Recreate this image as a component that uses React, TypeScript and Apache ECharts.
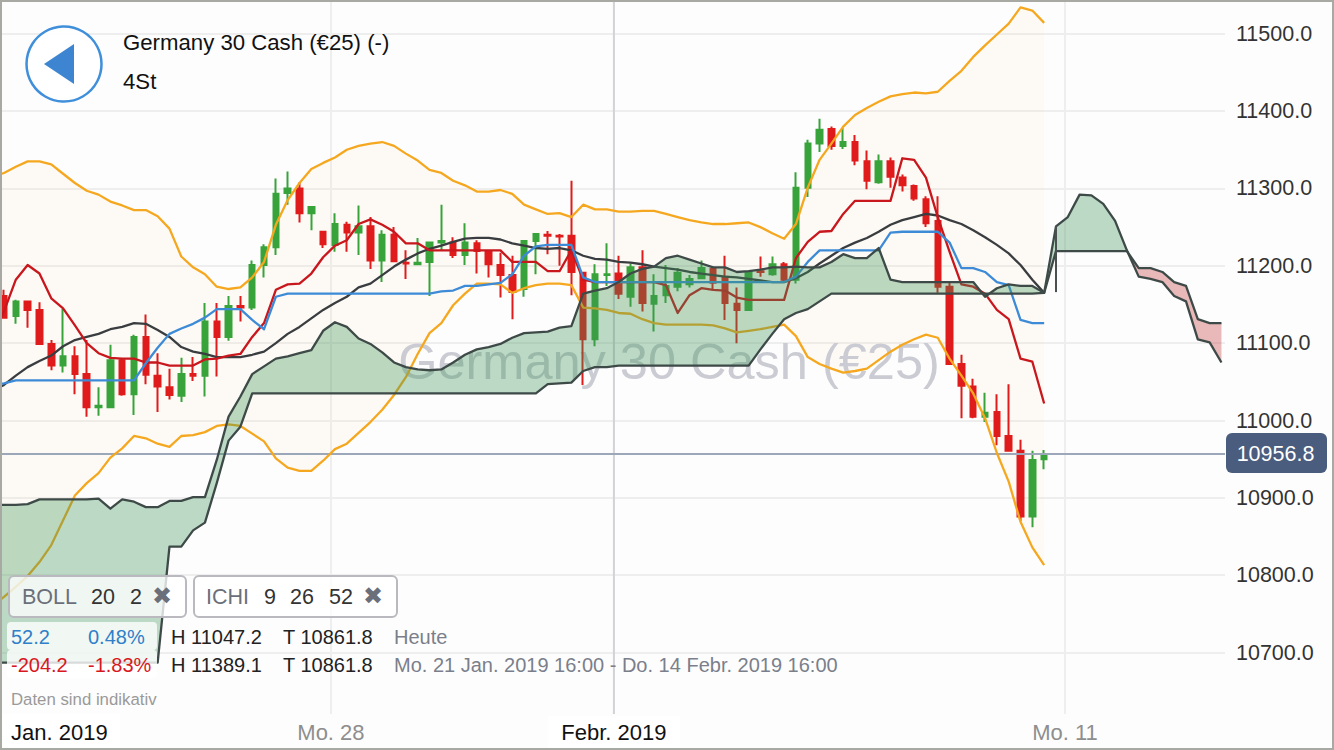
import React, { useEffect, useRef } from "react";
import * as echarts from "echarts";

const opens = [11161,11135,11154,11143,11099,11071,11083,11060,11017,11017,11078,11034,11108,11058,11043,11032,11060,11058,11128,11108,11148,11146,11201,11224,11294,11300,11268,11244,11227,11253,11243,11251,11207,11240,11204,11202,11205,11230,11230,11214,11229,11218,11201,11188,11170,11232,11240,11239,11239,11191,11105,11188,11190,11160,11198,11151,11162,11173,11176,11184,11196,11186,11151,11143,11193,11189,11202,11182,11301,11358,11377,11355,11360,11335,11308,11335,11314,11303,11286,11258,11173,11073,11044,11005,11011,10980,10961,10876,10950];
const closes = [11133,11154,11143,11099,11071,11083,11060,11017,11019,11078,11034,11108,11059,11044,11033,11060,11058,11128,11108,11148,11146,11201,11224,11293,11300,11268,11276,11228,11254,11243,11251,11207,11240,11206,11203,11204,11230,11232,11214,11230,11219,11202,11188,11166,11232,11241,11239,11238,11192,11105,11189,11189,11164,11198,11152,11161,11174,11191,11183,11197,11178,11152,11143,11192,11192,11202,11182,11301,11358,11376,11355,11360,11336,11310,11335,11315,11304,11287,11255,11173,11073,11045,11005,11010,10980,10961,10876,10949,10956.8];
const lows = [11132,11125,11120,11098,11065,11062,11034,11005,11006,11017,11032,11007,11047,11011,11027,11024,11051,11031,11057,11103,11128,11143,11185,11214,11279,11256,11246,11223,11218,11218,11214,11196,11179,11206,11183,11201,11161,11220,11210,11201,11190,11185,11159,11131,11160,11189,11215,11200,11162,11046,11096,11174,11157,11147,11141,11115,11152,11167,11172,11183,11169,11130,11100,11143,11186,11187,11179,11177,11289,11347,11350,11351,11330,11299,11306,11301,11296,11284,11250,11165,11072,11003,11003,10998,10968,10960,10870,10862,10937];
const highs = [11169,11156,11155,11153,11104,11144,11096,11104,11043,11098,11080,11111,11137,11087,11067,11081,11082,11152,11152,11161,11161,11207,11228,11313,11322,11308,11276,11244,11268,11257,11278,11263,11246,11250,11220,11236,11231,11279,11237,11255,11233,11219,11217,11213,11233,11242,11245,11241,11310,11191,11202,11229,11213,11203,11220,11189,11201,11197,11188,11207,11199,11213,11172,11192,11212,11212,11205,11321,11363,11390,11380,11378,11369,11349,11344,11340,11318,11305,11290,11290,11179,11085,11054,11036,11034,11047,10975,10961,10962];

// The overlay lines start one bar before the first candle (clipped by the chart's left edge).
const bollUpper = [11315,11320,11328,11335,11335,11331,11319,11307,11297,11292,11283,11278,11272,11272,11264,11248,11212,11198,11189,11173,11170,11172,11185,11205,11253,11285,11307,11325,11333,11340,11350,11355,11358,11360,11355,11345,11336,11324,11320,11310,11304,11296,11296,11298,11293,11279,11273,11267,11268,11263,11279,11273,11273,11270,11270,11271,11271,11267,11263,11259,11256,11254,11254,11255,11256,11250,11242,11235,11254,11301,11337,11358,11380,11395,11404,11412,11419,11422,11424,11423,11425,11439,11452,11470,11485,11499,11513,11534,11530,11514];
const bollLower = [10760,10772,10785,10799,10817,10839,10871,10903,10919,10932,10952,10964,10980,10977,10970,10966,10980,10981,10985,10993,10995,10993,10983,10973,10951,10939,10935,10935,10948,10963,10970,10984,10998,11014,11033,11056,11086,11113,11126,11149,11164,11177,11177,11176,11165,11171,11175,11177,11177,11175,11146,11145,11143,11139,11138,11131,11126,11124,11124,11124,11124,11123,11119,11114,11116,11118,11121,11124,11109,11082,11073,11067,11062,11064,11067,11078,11089,11098,11105,11111,11107,11080,11058,11035,11003,10958,10921,10869,10836,10813];
const bollMiddle = [11038,11046,11058,11069,11077,11084,11096,11104,11108,11112,11118,11121,11126,11125,11117,11108,11095,11089,11086,11082,11082,11082,11085,11089,11100,11112,11121,11132,11143,11152,11160,11172,11177,11188,11199,11208,11216,11222,11226,11231,11235,11236,11236,11234,11229,11226,11223,11222,11223,11220,11213,11209,11208,11205,11204,11202,11199,11197,11195,11192,11190,11188,11186,11185,11183,11181,11179,11179,11184,11192,11203,11213,11223,11230,11236,11244,11253,11259,11263,11267,11265,11259,11254,11246,11237,11227,11216,11201,11182,11165];
const tenkan = [11111,11141,11182,11201,11190,11158,11145,11123,11100,11087,11081,11080,11080,11075,11075,11071,11071,11071,11079,11080,11084,11086,11108,11126,11169,11176,11177,11190,11211,11226,11233,11254,11260,11253,11244,11229,11229,11220,11220,11220,11220,11220,11220,11220,11205,11205,11205,11193,11193,11220,11182,11179,11179,11179,11179,11179,11179,11175,11139,11162,11171,11169,11168,11159,11156,11156,11156,11156,11210,11231,11244,11245,11267,11284,11284,11284,11284,11339,11337,11314,11263,11218,11176,11173,11164,11143,11131,11080,11076,11022];
const kijun = [11046,11048,11052,11052,11052,11052,11052,11052,11052,11052,11052,11052,11052,11074,11094,11112,11119,11125,11133,11144,11144,11144,11130,11118,11160,11164,11164,11164,11164,11164,11164,11164,11164,11164,11164,11164,11164,11164,11167,11168,11174,11174,11176,11178,11189,11213,11225,11227,11227,11227,11185,11179,11179,11179,11179,11179,11179,11179,11179,11179,11179,11179,11179,11179,11179,11179,11179,11179,11186,11205,11220,11220,11220,11220,11220,11220,11243,11244,11244,11244,11244,11230,11197,11197,11192,11179,11175,11130,11126,11126];

// Ichimoku cloud runs from one bar before the first candle to 15 bars past the last one.
const spanA = [10891,10891,10891,10892,10898,10898,10898,10898,10898,10899,10886,10898,10895,10888,10888,10896,10896,10901,10901,10949,11005,11031,11060,11070,11080,11083,11087,11091,11116,11127,11121,11106,11099,11088,11075,11069,11066,11065,11066,11075,11085,11092,11095,11099,11107,11113,11114,11115,11120,11122,11164,11168,11171,11179,11190,11196,11199,11210,11213,11208,11203,11198,11198,11192,11193,11195,11198,11198,11199,11198,11198,11205,11215,11210,11210,11223,11182,11179,11179,11179,11179,11179,11179,11179,11160,11171,11176,11174,11174,11165,11251,11263,11292,11291,11280,11258,11220,11186,11183,11179,11161,11154,11105,11101,11075];
const spanB = [10687,10687,10687,10687,10687,10687,10687,10687,10687,10687,10687,10687,10687,10687,10687,10837,10837,10858,10868,10919,10974,10992,11035,11035,11035,11035,11035,11035,11035,11035,11035,11035,11035,11035,11035,11035,11035,11035,11035,11035,11035,11035,11035,11035,11035,11035,11035,11047,11048,11049,11064,11069,11069,11071,11071,11071,11071,11071,11071,11071,11071,11071,11071,11071,11071,11092,11112,11131,11139,11144,11154,11164,11164,11164,11164,11164,11164,11164,11164,11164,11164,11164,11164,11164,11164,11164,11164,11164,11164,11165,11219,11219,11219,11219,11219,11219,11219,11197,11197,11192,11179,11174,11131,11126,11126];

const lastClose = 10956.8;
const yTicks = [10700, 10800, 10900, 11000, 11100, 11200, 11300, 11400, 11500];
const xTickBars = [27.66, 51.6, 89.76];
const xTickLabels = ["Mo. 28", "Febr. 2019", "Mo. 11"];
const cloudStep = [89, 11251, 11166];

const FONT = '"Liberation Sans", Helvetica, Arial, sans-serif';
const AX_MIN = -0.338;
const AX_MAX = 103.3;
const Y_MIN = 10620.6;
const Y_MAX = 11543.6;
const FIRST = -1; // bar index of the first element of the overlay arrays
const CROSS = 96; // element index at which the cloud turns from green to red (bar 95)

const indexed = (values: number[]) => values.map((v, k) => [FIRST + k, v]);

function bandPolygon(top: number[], bottom: number[], from: number, to: number, fill: string) {
  return (_params: any, api: any) => {
    const points: number[][] = [];
    for (let k = from; k <= to; k++) points.push(api.coord([FIRST + k, top[k]]));
    for (let k = to; k >= from; k--) points.push(api.coord([FIRST + k, bottom[k]]));
    return { type: "polygon", shape: { points }, style: { fill, stroke: "none" } };
  };
}

function fillSeries(render: any, z: number) {
  return {
    type: "custom",
    renderItem: render,
    data: [[0, 11000]],
    encode: { x: 0, y: 1 },
    silent: true,
    clip: true,
    z,
  };
}

function lineSeries(values: number[], color: string, z = 3, width = 2.3) {
  return {
    type: "line",
    data: indexed(values),
    symbol: "none",
    silent: true,
    clip: true,
    z,
    lineStyle: { color, width, join: "round" },
  };
}

function segment(data: number[][], color: string, z: number, width = 2) {
  return { type: "line", data, symbol: "none", silent: true, z, lineStyle: { color, width } };
}

function txt(x: number, y: number, text: string, fill: string, fontSize: number, extra: any = {}) {
  return {
    type: "text",
    x,
    y,
    z: 101,
    silent: true,
    style: { text, fill, fontSize, fontFamily: FONT, verticalAlign: "middle", align: "left", ...extra },
  };
}

function panel(x: number, y: number, width: number, height: number, r: number, fill: string, stroke?: string) {
  return {
    type: "rect",
    z: 100,
    silent: true,
    shape: { x, y, width, height, r },
    style: { fill, stroke: stroke || "none", lineWidth: stroke ? 2 : 0 },
  };
}

export default function App() {
  const ref = useRef<HTMLDivElement>(null);

  useEffect(() => {
    document.body.style.margin = "0";
    const chart = echarts.init(ref.current!, undefined, { renderer: "svg" });
    const candleData = opens.map((o, i) => [i, o, closes[i], lows[i], highs[i]]);

    chart.setOption({
      animation: false,
      backgroundColor: "#fdfdfd",
      textStyle: { fontFamily: FONT },
      grid: { left: 0, top: 0, width: 1225, height: 714, containLabel: false, outerBoundsMode: "none" },
      xAxis: {
        type: "value",
        min: AX_MIN,
        max: AX_MAX,
        axisLine: { show: false },
        axisTick: { show: false, customValues: xTickBars },
        splitLine: { show: true, lineStyle: { color: "#eeeeee", width: 2 } },
        axisLabel: {
          customValues: xTickBars,
          margin: 7,
          fontSize: 22,
          fontFamily: FONT,
          formatter: (v: number) => {
            const label = xTickLabels[xTickBars.indexOf(v)] ?? "";
            return label.startsWith("Febr") ? `{b|${label}}` : `{g|${label}}`;
          },
          rich: {
            b: { color: "#111", fontSize: 22, fontFamily: FONT },
            g: { color: "#8e8e8e", fontSize: 22, fontFamily: FONT },
          },
        },
      },
      yAxis: {
        type: "value",
        position: "right",
        min: Y_MIN,
        max: Y_MAX,
        axisLine: { show: false },
        axisTick: { show: false, customValues: yTicks },
        splitLine: { show: true, lineStyle: { color: "#eeeeee", width: 2 } },
        axisLabel: {
          customValues: yTicks,
          margin: 11,
          color: "#333",
          fontSize: 21.5,
          fontFamily: FONT,
          formatter: (v: number) => v.toFixed(1),
        },
      },
      series: [
        fillSeries(bandPolygon(bollUpper, bollLower, 0, bollUpper.length - 1, "rgba(255,225,165,0.09)"), 1),
        segment([[xTickBars[1], Y_MIN], [xTickBars[1], Y_MAX]], "#d2d3da", 1),
        {
          type: "candlestick",
          data: candleData,
          encode: { x: 0, y: [1, 2, 3, 4] },
          barWidth: 6,
          silent: true,
          clip: true,
          z: 2,
          itemStyle: {
            color: "#39a33b",
            color0: "#e01b1b",
            borderColor: "#39a33b",
            borderColor0: "#e01b1b",
            borderWidth: 2,
          },
        },
        segment([[AX_MIN, lastClose], [AX_MAX, lastClose]], "#9ca8ba", 3),
        lineSeries(bollUpper, "#f5a81f"),
        lineSeries(bollLower, "#f5a81f"),
        lineSeries(bollMiddle, "#3a3d40"),
        lineSeries(tenkan, "#c8171d"),
        lineSeries(kijun, "#3d8bd6"),
        fillSeries(bandPolygon(spanA, spanB, 0, CROSS, "rgba(64,150,90,0.35)"), 4),
        fillSeries(bandPolygon(spanB, spanA, CROSS, spanA.length - 1, "rgba(200,70,70,0.38)"), 4),
        lineSeries(spanA, "#3e4a48", 5),
        lineSeries(spanB, "#3e4a48", 5),
        segment([[cloudStep[0], cloudStep[1]], [cloudStep[0], cloudStep[2]]], "#4a5052", 5),
      ],
      graphic: [
        { type: "rect", z: -1, silent: true, shape: { x: 0, y: 714, width: 120, height: 36 }, style: { fill: "#ffffff" } },
        { type: "rect", z: -1, silent: true, shape: { x: 548, y: 716, width: 132, height: 34 }, style: { fill: "#ffffff" } },
        {
          type: "text",
          x: 669,
          y: 361,
          z: 1.5,
          silent: true,
          style: {
            text: "Germany 30 Cash (€25)",
            fill: "#cbccd3",
            fontSize: 50.5,
            fontFamily: FONT,
            align: "center",
            verticalAlign: "middle",
          },
        },
        txt(11, 732, "Jan. 2019", "#111", 22),
        {
          type: "circle",
          z: 100,
          silent: true,
          shape: { cx: 64, cy: 64, r: 37.5 },
          style: { fill: "rgba(255,255,255,0.9)", stroke: "#3f8fdb", lineWidth: 2.5 },
        },
        {
          type: "polygon",
          z: 101,
          silent: true,
          shape: { points: [[44, 64], [74, 44], [74, 84]] },
          style: { fill: "#3d85d1" },
        },
        txt(123, 42, "Germany 30 Cash (€25) (-)", "#111", 22.2),
        txt(123, 81, "4St", "#111", 22.2),

        panel(9, 576, 177, 41, 5, "rgba(255,255,255,0.78)", "#b9b9bf"),
        txt(22, 597, "BOLL", "#6b6f7a", 21.5),
        txt(91, 597, "20", "#333", 21.5),
        txt(130, 597, "2", "#333", 21.5),
        txt(162, 596, "✖", "#6b6f7a", 24, { align: "center", fontFamily: '"DejaVu Sans"' }),
        panel(194, 576, 203, 41, 5, "rgba(255,255,255,0.78)", "#b9b9bf"),
        txt(206, 597, "ICHI", "#6b6f7a", 21.5),
        txt(264, 597, "9", "#333", 21.5),
        txt(290, 597, "26", "#333", 21.5),
        txt(329, 597, "52", "#333", 21.5),
        txt(373, 596, "✖", "#6b6f7a", 24, { align: "center", fontFamily: '"DejaVu Sans"' }),

        panel(7, 622, 150, 28, 4, "rgba(255,255,255,0.8)"),
        panel(7, 650, 150, 28, 4, "rgba(255,255,255,0.8)"),
        txt(11, 637, "52.2", "#2f7fc9", 20),
        txt(88, 637, "0.48%", "#2f7fc9", 20),
        txt(171, 637, "H 11047.2", "#222", 20),
        txt(283, 637, "T 10861.8", "#222", 20),
        txt(394, 637, "Heute", "#7b7f8b", 20),
        txt(11, 665, "-204.2", "#d8181f", 20),
        txt(88, 665, "-1.83%", "#d8181f", 20),
        txt(171, 665, "H 11389.1", "#222", 20),
        txt(283, 665, "T 10861.8", "#222", 20),
        txt(394, 665, "Mo. 21 Jan. 2019 16:00 - Do. 14 Febr. 2019 16:00", "#7b7f8b", 20),
        txt(11, 699, "Daten sind indikativ", "#9a9a9a", 16.8),

        { type: "rect", z: 100, silent: true, shape: { x: 1226, y: 433, width: 101, height: 40, r: 6 }, style: { fill: "#4a5d7e" } },
        txt(1275.5, 453.5, "10956.8", "#ffffff", 21.5, { align: "center" }),
        {
          type: "rect",
          z: 120,
          silent: true,
          shape: { x: 1, y: 1, width: 1332, height: 748 },
          style: { fill: "none", stroke: "#a9a9a3", lineWidth: 2 },
        },
      ],
    });

    return () => chart.dispose();
  }, []);

  return <div ref={ref} style={{ position: "absolute", left: 0, top: 0, width: 1334, height: 750 }} />;
}
